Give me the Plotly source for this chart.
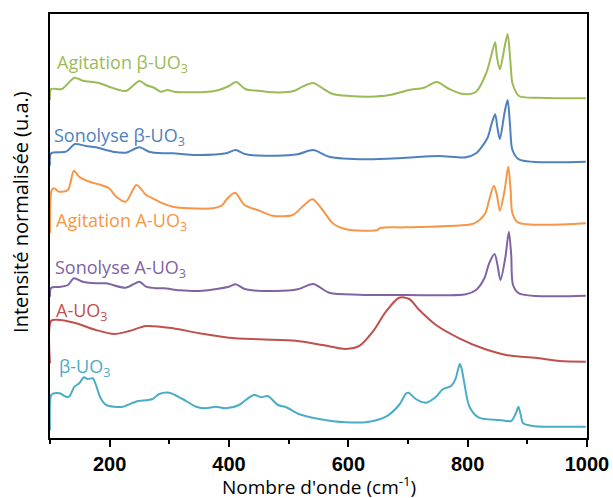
import plotly.graph_objects as go

# Wavenumbers (cm-1) and stacked, normalised intensities (arbitrary units)
green_x = [100, 102, 120, 141, 155, 182, 199, 227, 250, 261, 275, 286, 297, 308, 328, 361, 383, 400, 412, 428,
           450, 473, 507, 523, 541, 557, 574, 602, 635, 669, 702, 727, 748, 769, 792, 814, 831, 839, 846, 849,
           854, 862, 867, 871, 873, 875, 886, 920, 998]
green_y = [338, 349, 349, 360.3, 357.3, 355, 351.3, 347, 357, 353, 350, 346.3, 348, 346.3, 345.7, 346, 348, 352, 356, 348.7,
           347.3, 345.7, 346.7, 351.3, 355, 349.7, 344, 342, 341.3, 343, 348, 350.3, 356, 349, 344, 346.3, 364.7, 381.3, 395.7, 381.3,
           368.7, 391.3, 404, 381.3, 365, 354.7, 342, 340.3, 339.7]

blue_x = [100, 102, 127, 142, 160, 177, 205, 227, 250, 266, 289, 306, 345, 395, 411, 428, 479, 515, 541, 568,
          630, 697, 752, 797, 814, 833, 840, 846, 850, 854, 862, 867, 871, 875, 886, 998]
blue_y = [272.3, 284.7, 286.3, 294, 292, 290.7, 286.3, 285.3, 290.7, 286.3, 284.7, 284.7, 283, 284.7, 288, 283.7, 282.3, 283.7, 288, 281.3,
          278.7, 280.3, 282, 280.7, 284.7, 299.7, 314, 323.7, 310, 299, 326, 338, 313, 288, 278.7, 276.3]

orange_x = [100, 103, 107, 115, 130, 140, 149, 166, 185, 199, 211, 227, 245, 261, 272, 289, 306, 333, 373, 389,
            395, 410, 426, 451, 473, 507, 523, 540, 557, 574, 596, 649, 653, 697, 808, 820, 830, 836, 844, 849,
            854, 862, 868, 872, 875, 884, 998]
orange_y = [205, 248, 249.7, 246.3, 248, 267.3, 261.3, 256.3, 253, 249.7, 241.3, 236.3, 253, 243, 239.7, 234.7, 231.3, 229.7, 229.7, 233,
            238, 245.3, 233, 227.3, 222.3, 223, 231.3, 238.7, 228, 214.7, 208.7, 208, 210, 210.7, 214, 218, 225.3, 238, 252.3, 243,
            227.3, 248, 271.3, 248, 224.7, 215.7, 214.7]

purple_x = [100, 102, 116, 130, 140, 155, 177, 194, 227, 250, 261, 278, 291, 317, 350, 400, 411, 428, 479, 515,
            541, 568, 618, 697, 797, 814, 828, 836, 845, 850, 855, 863, 869, 873, 876, 886, 998]
purple_y = [141.3, 150.3, 151, 153, 159.7, 156.3, 154.7, 154.7, 150.3, 156.3, 151.3, 149.7, 149.7, 147.7, 147, 151.3, 153.7, 148.7, 147, 148.7,
            154, 145.3, 143.3, 143, 143.7, 148, 159.7, 174.7, 184, 173, 158, 180, 206.3, 183, 153, 144.7, 142.3]

red_x = [100, 102, 116, 144, 177, 208, 233, 261, 306, 350, 400, 451, 512, 557, 596, 619, 641, 663, 685, 702,
         719, 747, 786, 825, 864, 920, 954, 998]
red_y = [74.7, 117.3, 118, 114.7, 108, 104, 107, 112, 109.7, 104.7, 100.3, 98.7, 97.3, 93, 89, 92.3, 106.3, 126.3, 140.3, 139,
         128, 113, 99.7, 89.7, 83, 79.7, 77, 76.3]

cyan_x = [100, 102, 107, 116, 127, 132, 141, 149, 157, 163, 172, 177, 185, 194, 222, 244, 272, 283, 300, 322,
          345, 361, 378, 395, 417, 428, 442, 454, 465, 482, 496, 518, 551, 596, 635, 663, 685, 697, 701, 713,
          730, 747, 758, 772, 780, 784, 787, 790, 794, 803, 819, 853, 873, 881, 885, 889, 893, 909, 998]
cyan_y = [8, 43, 44.7, 44.7, 41.3, 41.3, 51.3, 54.7, 60.7, 59, 59.7, 53, 39.7, 33, 31.3, 36.3, 39, 44, 45.3, 39,
          31.3, 29.7, 31.3, 29.7, 33, 38, 43, 40.7, 42, 33, 30.7, 23.7, 19, 15.7, 16.3, 21.3, 33, 44.7, 45.3, 39,
          35.3, 41.3, 48.7, 52, 59.7, 69, 74, 69, 56.3, 31.3, 20.3, 18, 17, 25, 31.3, 23, 14.7, 12, 11.3]

series_names = ["Agitation β-UO<sub>3</sub>", "Sonolyse β-UO<sub>3</sub>", "Agitation A-UO<sub>3</sub>",
                "Sonolyse A-UO<sub>3</sub>", "A-UO<sub>3</sub>", "β-UO<sub>3</sub>"]
series_colors = ["#9BBB59", "#4F81BD", "#F79646", "#8064A2", "#C0504D", "#4BACC6"]
label_x = [108, 104, 107.5, 105, 106.5, 112]
label_y = [375, 302, 217, 170, 127, 71]

tick_vals = [200, 400, 600, 800, 1000]
tick_text = ["200", "400", "600", "800", "1000"]
minor_vals = [100, 300, 500, 700, 900]

xs = [green_x, blue_x, orange_x, purple_x, red_x, cyan_x]
ys = [green_y, blue_y, orange_y, purple_y, red_y, cyan_y]

fig = go.Figure()
for x, y, c, n in zip(xs, ys, series_colors, series_names):
    fig.add_trace(go.Scatter(x=x, y=y, mode="lines",
                             line=dict(color=c, width=2, shape="spline", smoothing=0.8),
                             name=n, hoverinfo="skip"))

for n, c, lx, ly in zip(series_names, series_colors, label_x, label_y):
    fig.add_annotation(x=lx, y=ly, xref="x", yref="y", text=n, showarrow=False,
                       xanchor="left", yanchor="middle",
                       font=dict(family="Open Sans", size=18, color=c))

# axis titles as annotations (pixel-precise placement)
fig.add_annotation(x=-0.056, y=0.533, xref="paper", yref="paper", text="Intensité normalisée (u.a.)",
                   textangle=-90, showarrow=False, xanchor="center", yanchor="middle",
                   font=dict(family="Open Sans", size=20, color="#000"))
fig.add_annotation(x=0.5, y=-0.113, xref="paper", yref="paper", text="Nombre d'onde (cm<sup>-1</sup>)",
                   showarrow=False, xanchor="center", yanchor="middle",
                   font=dict(family="Open Sans", size=19, color="#000"))

fig.update_layout(
    width=613, height=498,
    margin=dict(l=50, r=26, t=14, b=60, autoexpand=False),
    paper_bgcolor="white", plot_bgcolor="white",
    showlegend=False,
    xaxis=dict(range=[100, 1000], tickvals=tick_vals, ticktext=tick_text, automargin=False,
               ticks="outside", ticklen=7, tickwidth=1.5, tickcolor="#000",
               showline=True, linecolor="#000", linewidth=1.5, mirror=True,
               showgrid=False, zeroline=False,
               tickfont=dict(family="Liberation Sans", size=20, color="#000", weight="bold"),
               minor=dict(tickvals=minor_vals, ticks="outside", ticklen=4, tickwidth=1.5, tickcolor="#000")),
    yaxis=dict(range=[0, 424], showticklabels=False, ticks="", automargin=False,
               showline=True, linecolor="#000", linewidth=1.5, mirror=True,
               showgrid=False, zeroline=False),
)

fig.write_html("out.html", config={"displayModeBar": False},
               post_script="document.body.style.margin='0';document.body.style.padding='0';")
